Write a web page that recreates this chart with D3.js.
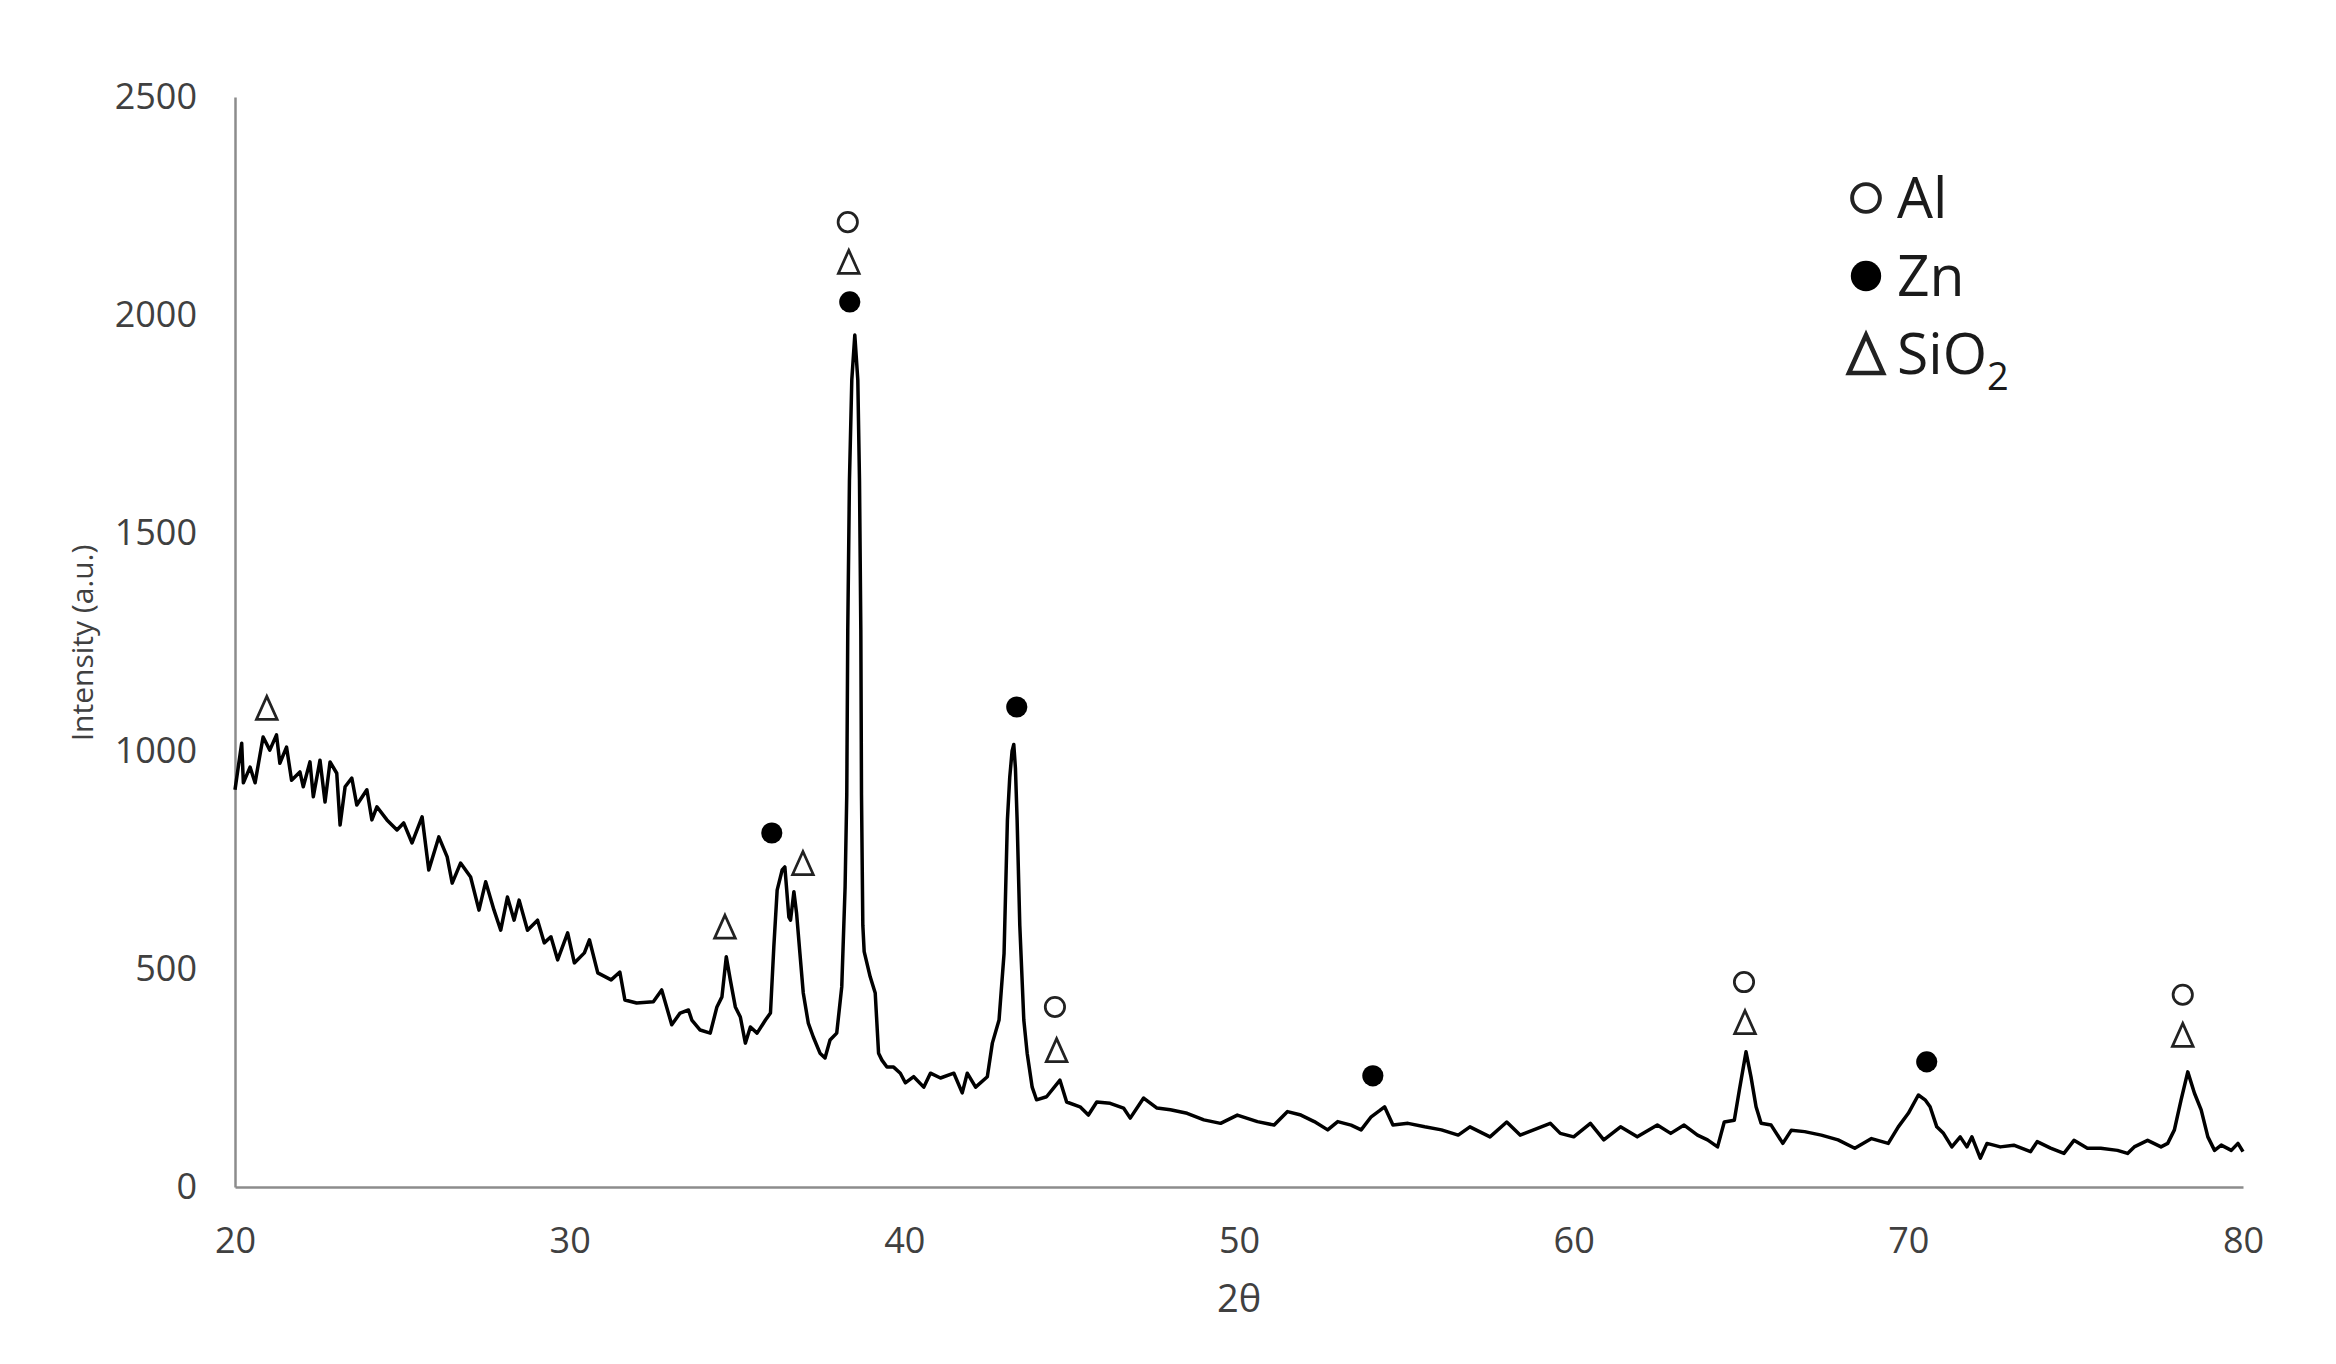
<!DOCTYPE html>
<html>
	<head>
		<meta charset="utf-8">
		<title>XRD pattern</title>
		<script type="text/javascript" src="https://cdn.jsdelivr.net/npm/d3@7/dist/d3.min.js"></script>
		<style type="text/css">
			body{
				margin: 0;
				background: #fff;
			}
			.axis path{
				stroke: #8c8c8c;
				stroke-width: 2.5;
			}
			.axis text{
				font-family: "Open Sans", sans-serif;
				font-size: 36px;
				fill: #404040;
			}
		</style>
	</head>
	<body>
	<script type="text/javascript">
		const width = 2336, height = 1364;
		const margin = {left: 235, right: 93, top: 97, bottom: 177};

		// pattern: 2theta and intensity
		const twoTheta = [
			20.0, 20.2, 20.25, 20.45, 20.6, 20.84, 21.04, 21.24, 21.34, 21.54,
			21.69, 21.94, 22.04, 22.24, 22.34, 22.54, 22.69, 22.84, 23.04, 23.14,
			23.29, 23.49, 23.64, 23.94, 24.09, 24.24, 24.54, 24.84, 25.04, 25.29,
			25.59, 25.79, 26.09, 26.34, 26.49, 26.74, 27.04, 27.29, 27.49, 27.74,
			27.94, 28.14, 28.34, 28.49, 28.74, 29.04, 29.24, 29.44, 29.64, 29.94,
			30.14, 30.44, 30.59, 30.84, 31.24, 31.5, 31.65, 32.0, 32.5, 32.75,
			33.05, 33.3, 33.55, 33.65, 33.9, 34.2, 34.4, 34.55, 34.68, 34.8,
			34.95, 35.1, 35.25, 35.4, 35.6, 35.85, 36.0, 36.1, 36.2, 36.35,
			36.43, 36.55, 36.6, 36.7, 36.78, 36.88, 36.98, 37.13, 37.28, 37.48,
			37.63, 37.78, 37.98, 38.13, 38.23, 38.28, 38.31, 38.36, 38.43, 38.52,
			38.61, 38.66, 38.70, 38.72, 38.76, 38.80, 38.98, 39.13, 39.23, 39.33,
			39.48, 39.68, 39.88, 40.03, 40.28, 40.58, 40.78, 41.08, 41.48, 41.73,
			41.88, 42.13, 42.48, 42.63, 42.83, 42.98, 43.08, 43.15, 43.22, 43.27,
			43.32, 43.37, 43.45, 43.57, 43.67, 43.82, 43.95, 44.25, 44.65, 44.85,
			45.25, 45.5, 45.75, 46.15, 46.55, 46.75, 47.15, 47.55, 47.95, 48.45,
			48.95, 49.45, 49.95, 50.55, 51.05, 51.45, 51.85, 52.25, 52.65, 52.95,
			53.35, 53.65, 53.95, 54.2, 54.35, 54.6, 55.05, 55.55, 56.05, 56.55,
			56.9, 57.5, 58.0, 58.4, 58.9, 59.3, 59.6, 60.0, 60.5, 60.9,
			61.4, 61.9, 62.5, 62.9, 63.3, 63.7, 64.0, 64.3, 64.5, 64.8,
			64.95, 65.15, 65.3, 65.45, 65.6, 65.9, 66.25, 66.5, 66.9, 67.4,
			67.9, 68.4, 68.9, 69.4, 69.7, 70.0, 70.3, 70.5, 70.65, 70.85,
			71.05, 71.3, 71.55, 71.75, 71.9, 72.15, 72.35, 72.75, 73.15, 73.65,
			73.85, 74.25, 74.65, 74.95, 75.35, 75.75, 76.25, 76.55, 76.75, 77.15,
			77.55, 77.75, 77.95, 78.15, 78.35, 78.55, 78.75, 78.95, 79.15, 79.35,
			79.65, 79.85, 80.0
		];
		const intensity = [
			911, 1018, 927, 963, 927, 1032, 1002, 1037, 972, 1009,
			933, 952, 918, 975, 895, 979, 883, 975, 949, 830,
			918, 938, 876, 911, 842, 872, 842, 819, 835, 789,
			849, 727, 803, 757, 697, 743, 711, 635, 700, 635,
			589, 665, 612, 658, 589, 612, 560, 574, 521, 583,
			514, 537, 567, 491, 475, 493, 429, 422, 425, 452,
			372, 399, 406, 383, 360, 353, 413, 436, 528, 475,
			413, 390, 330, 367, 353, 383, 399, 550, 681, 727,
			734, 619, 612, 677, 628, 536, 445, 376, 344, 307,
			296, 337, 353, 459, 688, 900, 1278, 1621, 1851, 1954,
			1851, 1621, 1278, 900, 600, 540, 482, 445, 307, 291,
			275, 275, 261, 239, 253, 229, 261, 250, 261, 216,
			261, 229, 253, 330, 383, 536, 842, 940, 1000, 1015,
			960, 842, 600, 383, 307, 229, 200, 207, 245, 195,
			184, 165, 195, 192, 181, 158, 204, 181, 177, 169,
			154, 146, 165, 150, 142, 173, 165, 150, 131, 150,
			142, 131, 161, 175, 184, 142, 146, 138, 131, 119,
			138, 115, 149, 119, 134, 146, 123, 115, 146, 108,
			138, 115, 142, 123, 142, 119, 108, 92, 149, 153,
			222, 310, 252, 184, 146, 142, 100, 130, 127, 119,
			108, 89, 111, 100, 138, 169, 211, 200, 184, 138,
			123, 92, 115, 92, 115, 66, 100, 92, 96, 81,
			104, 89, 77, 107, 89, 89, 84, 77, 92, 107,
			92, 100, 131, 200, 264, 215, 177, 115, 84, 96,
			84, 100, 81
		];

		// phase markers above the peaks
		const markerPhase = ["SiO2", "SiO2", "Zn", "SiO2", "Al", "SiO2", "Zn", "Zn",
			"Al", "SiO2", "Zn", "Al", "SiO2", "Zn", "Al", "SiO2"];
		const markerTheta = [20.95, 34.64, 36.04, 36.97, 38.31, 38.34, 38.37, 43.36,
			44.5, 44.55, 54.0, 65.09, 65.12, 70.55, 78.2, 78.2];
		const markerLevel = [1099, 597, 812, 743, 2213, 2122, 2030, 1101,
			413, 314, 255, 470, 378, 287, 441, 349];

		const legendPhase = ["Al", "Zn", "SiO2"];
		const legendLabel = ["Al", "Zn", "SiO"];

		const xTicks = [20, 30, 40, 50, 60, 70, 80];
		const yTicks = [0, 500, 1000, 1500, 2000, 2500];

		let xScale = d3.scaleLinear()
					.domain([20, 80])
					.range([margin.left, width - margin.right]);

		let yScale = d3.scaleLinear()
					.domain([0, 2500])
					.range([height - margin.bottom, margin.top]);

		let svg = d3.select("body")
					.append("svg")
					.attr("width", width)
					.attr("height", height);

		// axes, no tick marks
		let xAxis = d3.axisBottom(xScale)
					.tickValues(xTicks)
					.tickFormat(d3.format("d"))
					.tickSize(0)
					.tickPadding(40);
		let yAxis = d3.axisLeft(yScale)
					.tickValues(yTicks)
					.tickFormat(d3.format("d"))
					.tickSize(0)
					.tickPadding(38);

		svg.append("g")
			.attr("class", "axis")
			.attr("transform", "translate(0," + yScale(0) + ")")
			.call(xAxis);
		svg.append("g")
			.attr("class", "axis")
			.attr("transform", "translate(" + xScale(20) + ",0)")
			.call(yAxis);

		let points = twoTheta.map(function(t, i){ return [t, intensity[i]]; });

		let line = d3.line()
					.x(function(d){ return xScale(d[0]); })
					.y(function(d){ return yScale(d[1]); });

		svg.append("path")
			.datum(points)
			.attr("d", line)
			.attr("fill", "none")
			.attr("stroke", "#000")
			.attr("stroke-width", 3.5)
			.attr("stroke-linejoin", "round");

		function drawMarker(g, phase, cx, cy, s){
			if(phase === "Al"){
				g.append("circle")
					.attr("cx", cx).attr("cy", cy).attr("r", s * 0.42)
					.attr("fill", "none").attr("stroke", "#222").attr("stroke-width", s * 0.12);
			} else if(phase === "Zn"){
				g.append("circle")
					.attr("cx", cx).attr("cy", cy).attr("r", s * 0.46)
					.attr("fill", "#000");
			} else {
				let hw = s * 0.45, hh = s * 0.5;
				g.append("path")
					.attr("d", "M" + cx + "," + (cy - hh) + "L" + (cx + hw) + "," + (cy + hh) +
						"L" + (cx - hw) + "," + (cy + hh) + "Z")
					.attr("fill", "none").attr("stroke", "#222").attr("stroke-width", s * 0.12)
					.attr("stroke-linejoin", "miter");
			}
		}

		let markers = svg.append("g");
		markerPhase.forEach(function(p, i){
			drawMarker(markers, p, xScale(markerTheta[i]), yScale(markerLevel[i]), 23);
		});

		// legend
		let legend = svg.append("g");
		legendPhase.forEach(function(p, i){
			let ly = 198 + i * 78;
			drawMarker(legend, p, 1866, ly, p === "SiO2" ? 38 : 33);
			let t = legend.append("text")
				.attr("x", 1897)
				.attr("y", ly + 20)
				.attr("font-family", "'Open Sans', sans-serif")
				.attr("font-size", "57px")
				.attr("fill", "#1a1a1a")
				.text(legendLabel[i]);
			if(p === "SiO2"){
				t.append("tspan")
					.attr("dy", 16)
					.attr("font-size", "38px")
					.text("2");
			}
		});

		// axis titles
		svg.append("text")
			.attr("x", xScale(50))
			.attr("y", 1312)
			.attr("text-anchor", "middle")
			.attr("font-family", "'Open Sans', sans-serif")
			.attr("font-size", "38px")
			.attr("fill", "#404040")
			.text("2θ");

		svg.append("text")
			.attr("transform", "translate(93," + 643 + ") rotate(-90)")
			.attr("text-anchor", "middle")
			.attr("font-family", "'Open Sans', sans-serif")
			.attr("font-size", "30px")
			.attr("fill", "#404040")
			.text("Intensity (a.u.)");
	</script>
	</body>
</html>
